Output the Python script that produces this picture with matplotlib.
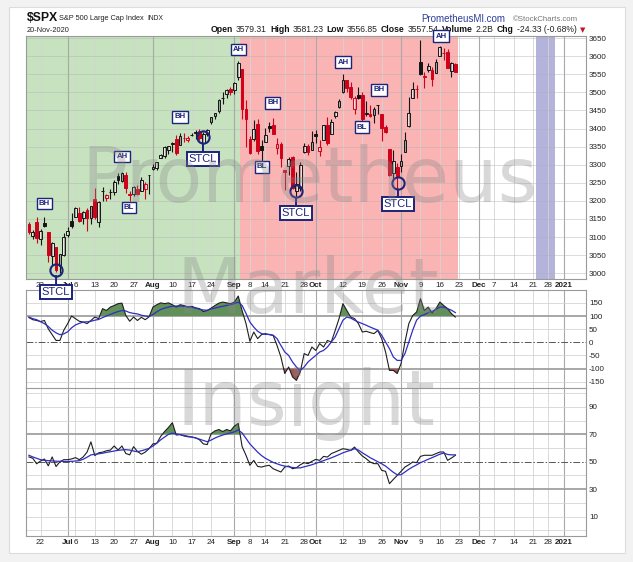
import numpy as np
import matplotlib
matplotlib.use("Agg")
import matplotlib.pyplot as plt
from matplotlib.patches import Rectangle
from matplotlib.offsetbox import TextArea, HPacker, AnnotationBbox

plt.rcParams['font.family'] = ['Liberation Sans', 'DejaVu Sans']

W, H = 633, 562

# ---------------- data ----------------
prev_close = 3124.74
opens = [
    3136.13, 3101.64, 3140.29, 3094.42, 3138.70, 3114.40, 3046.60, 3073.20, 3018.59, 3050.20,
    3105.92, 3143.64, 3155.29, 3166.44, 3153.07, 3176.17, 3152.47, 3205.08, 3141.11, 3225.98,
    3208.36, 3224.21, 3224.29, 3268.52, 3254.86, 3271.64, 3218.58, 3219.84, 3234.27, 3227.22,
    3231.76, 3270.45, 3288.26, 3289.92, 3317.37, 3323.17, 3340.05, 3356.04, 3370.34, 3355.46,
    3372.95, 3368.66, 3380.86, 3387.04, 3392.51, 3360.48, 3386.01, 3418.09, 3435.95, 3449.97,
    3485.14, 3494.69, 3509.73, 3507.44, 3543.76, 3564.74, 3453.60, 3371.88, 3369.82, 3412.56,
    3352.70, 3363.56, 3407.73, 3411.23, 3346.86, 3357.38, 3285.57, 3295.75, 3320.11, 3226.14,
    3236.66, 3333.90, 3350.92, 3341.21, 3385.87, 3338.94, 3367.27, 3408.74, 3384.56, 3434.28,
    3459.67, 3500.02, 3534.01, 3515.47, 3453.72, 3493.50, 3493.66, 3439.38, 3439.91, 3438.50,
    3464.90, 3441.42, 3403.15, 3342.48, 3277.17, 3293.59, 3296.20, 3336.25, 3406.46, 3485.74,
    3508.34, 3583.04, 3543.26, 3563.22, 3562.67, 3552.57, 3600.16, 3610.31, 3612.09, 3559.41,
    3579.31]
highs = [
    3141.16, 3120.00, 3155.53, 3120.92, 3154.90, 3115.01, 3086.25, 3073.73, 3053.89, 3111.51,
    3128.44, 3165.81, 3182.59, 3184.15, 3171.80, 3179.78, 3186.82, 3235.32, 3200.95, 3238.28,
    3220.39, 3233.52, 3258.61, 3277.29, 3279.32, 3279.99, 3227.26, 3241.43, 3243.72, 3264.74,
    3250.92, 3272.17, 3302.73, 3306.84, 3330.77, 3351.03, 3352.54, 3363.29, 3381.01, 3387.89,
    3387.24, 3378.51, 3387.59, 3395.06, 3399.54, 3390.80, 3399.96, 3432.09, 3444.21, 3481.07,
    3501.38, 3509.23, 3514.77, 3528.03, 3588.11, 3564.85, 3479.15, 3379.97, 3424.77, 3425.55,
    3368.95, 3402.93, 3419.48, 3428.92, 3375.17, 3362.27, 3285.57, 3320.31, 3323.35, 3278.70,
    3306.88, 3360.74, 3357.92, 3393.56, 3397.18, 3369.10, 3409.57, 3431.56, 3426.26, 3447.28,
    3482.34, 3549.85, 3534.01, 3527.94, 3489.08, 3515.76, 3502.42, 3476.93, 3464.86, 3460.53,
    3466.46, 3441.42, 3409.51, 3342.48, 3341.05, 3304.93, 3330.14, 3389.49, 3486.25, 3529.05,
    3521.58, 3645.99, 3557.22, 3581.16, 3569.02, 3593.66, 3628.51, 3623.11, 3619.09, 3585.22,
    3581.23]
lows = [
    3108.03, 3093.51, 3083.11, 3079.39, 3127.12, 3032.13, 3024.01, 3004.63, 2999.74, 3047.83,
    3101.17, 3124.52, 3155.29, 3142.93, 3136.53, 3115.70, 3136.22, 3149.43, 3127.66, 3200.76,
    3198.59, 3205.65, 3215.16, 3247.77, 3253.10, 3222.66, 3200.05, 3214.25, 3216.17, 3227.22,
    3204.13, 3220.26, 3284.53, 3286.37, 3317.37, 3318.14, 3328.72, 3335.44, 3326.44, 3355.46,
    3363.35, 3361.64, 3379.22, 3370.15, 3369.66, 3354.69, 3379.31, 3413.13, 3425.84, 3444.15,
    3468.35, 3484.32, 3493.25, 3494.60, 3535.23, 3427.41, 3349.63, 3329.27, 3366.84, 3329.25,
    3310.47, 3363.56, 3389.25, 3384.45, 3328.82, 3292.40, 3229.10, 3270.95, 3232.57, 3209.45,
    3228.44, 3332.91, 3327.54, 3340.47, 3361.39, 3323.69, 3367.27, 3354.54, 3384.56, 3428.15,
    3458.07, 3499.61, 3500.86, 3480.55, 3440.89, 3480.45, 3419.93, 3435.65, 3433.06, 3415.34,
    3440.45, 3364.86, 3388.71, 3268.89, 3259.82, 3233.94, 3279.74, 3336.25, 3405.17, 3485.74,
    3484.34, 3547.48, 3511.91, 3557.00, 3518.58, 3552.57, 3600.16, 3588.68, 3567.33, 3543.84,
    3556.85]
closes = [
    3113.49, 3115.34, 3097.74, 3117.86, 3131.29, 3050.33, 3083.76, 3009.05, 3053.24, 3100.29,
    3115.86, 3130.01, 3179.72, 3145.32, 3169.94, 3152.05, 3185.04, 3155.22, 3197.52, 3226.56,
    3215.57, 3224.73, 3251.84, 3257.30, 3276.02, 3235.66, 3215.63, 3239.41, 3218.44, 3258.44,
    3246.22, 3271.12, 3294.61, 3306.51, 3327.77, 3349.16, 3351.28, 3360.47, 3333.69, 3380.35,
    3373.43, 3372.85, 3381.99, 3389.78, 3374.85, 3385.51, 3397.16, 3431.28, 3443.62, 3478.73,
    3484.55, 3508.01, 3500.31, 3526.65, 3580.84, 3455.06, 3426.96, 3331.84, 3398.96, 3339.19,
    3340.97, 3383.54, 3401.20, 3385.49, 3357.01, 3319.47, 3281.06, 3315.57, 3236.92, 3246.59,
    3298.46, 3351.60, 3335.47, 3363.00, 3380.80, 3348.42, 3408.60, 3360.97, 3419.44, 3446.83,
    3477.14, 3534.22, 3511.93, 3488.67, 3483.34, 3483.81, 3426.92, 3443.12, 3435.56, 3453.49,
    3465.39, 3400.97, 3390.68, 3271.03, 3310.11, 3269.96, 3310.24, 3369.16, 3443.44, 3510.45,
    3509.44, 3550.50, 3545.53, 3572.66, 3537.01, 3585.15, 3626.91, 3609.53, 3567.79, 3581.87,
    3557.54]
volume_text = "2.2B"

cci = [
    94, 86, 83, 79, 83, 51, 29, 7, 7, 46,
    71, 100, 90, 80, 77, 71, 83, 96, 90, 128,
    121, 134, 140, 147, 149, 102, 80, 96, 83, 95,
    86, 97, 134, 143, 150, 147, 150, 143, 134, 143,
    140, 134, 137, 131, 128, 117, 121, 130, 140, 149,
    153, 150, 147, 153, 176, 120, 71, 4, 39, 14,
    29, 33, 29, 26, -12, -56, -119, -94, -132, -145,
    -113, -43, -50, -18, -31, -5, -18, 7, 1, 45,
    90, 147, 121, 96, 90, 71, 39, 42, 37, 33,
    45, 14, -37, -107, -107, -119, -81, 1, 71, 102,
    115, 166, 121, 134, 112, 128, 153, 140, 128, 109,
    96]
cci_signal = [
    96, 90, 86, 78, 71, 60, 46, 36, 29, 32,
    40, 55, 66, 72, 77, 78, 80, 84, 87, 94,
    100, 106, 112, 117, 121, 119, 113, 110, 108, 103,
    100, 98, 106, 116, 125, 130, 134, 137, 138, 138,
    137, 135, 134, 130, 126, 123, 122, 127, 130, 134,
    137, 140, 143, 147, 153, 140, 110, 77, 58, 42,
    33, 30, 30, 27, 14, -12, -37, -50, -75, -94,
    -107, -94, -75, -62, -50, -37, -31, -18, 1, 20,
    52, 84, 96, 92, 84, 77, 71, 65, 58, 52,
    46, 27, 1, -24, -56, -69, -69, -43, 1, 46,
    84, 100, 105, 113, 118, 125, 134, 134, 128, 122,
    113]
rsi = [
    53.5, 52.5, 48.5, 50.5, 52.0, 47.0, 53.5, 46.5, 50.0, 51.5,
    51.5, 52.0, 53.0, 51.5, 53.5, 57.0, 64.5, 54.5, 56.5, 57.0,
    58.0, 58.5, 61.5, 58.5, 61.5, 56.0, 55.0, 61.0, 57.5, 55.5,
    57.0, 59.5, 63.0, 63.5, 68.5, 72.0, 75.0, 78.5, 69.5, 69.8,
    68.8, 68.2, 68.0, 67.5, 66.0, 63.0, 62.5, 70.5, 72.5, 73.5,
    72.0, 73.5, 72.5, 76.0, 78.0, 61.0, 54.7, 47.4, 51.0, 46.6,
    46.1, 46.9, 47.4, 44.9, 43.7, 42.5, 46.1, 46.9, 44.9, 45.6,
    47.8, 49.3, 48.6, 50.3, 51.7, 51.0, 53.9, 53.4, 55.9, 57.1,
    58.3, 59.5, 59.0, 58.3, 60.7, 57.1, 54.2, 52.2, 49.8, 48.6,
    48.6, 43.7, 43.0, 34.0, 37.1, 40.0, 43.0, 46.1, 47.8, 49.8,
    49.3, 53.9, 54.7, 54.7, 54.7, 55.9, 57.1, 57.1, 51.0, 52.7,
    54.7]
rsi_signal = [
    54.7, 53.5, 52.5, 51.5, 51.0, 50.8, 50.6, 50.4, 50.3, 50.2,
    50.2, 50.3, 50.5, 50.8, 51.8, 53.3, 55.0, 55.4, 55.8, 56.2,
    56.8, 57.3, 57.8, 58.3, 58.6, 58.8, 58.5, 57.8, 57.3, 58.0,
    58.8, 59.8, 61.5, 63.5, 66.0, 68.0, 70.0, 70.8, 70.3, 69.8,
    69.2, 68.6, 68.0, 67.3, 66.5, 65.5, 64.6, 65.8, 67.3, 68.5,
    69.5, 70.3, 71.0, 71.8, 73.2, 71.0, 67.0, 63.0, 60.0, 57.0,
    54.5, 52.5, 51.0, 49.5, 48.5, 47.5, 46.8, 46.3, 45.8, 45.5,
    45.5, 46.3, 47.0, 47.8, 48.8, 49.8, 50.8, 51.8, 52.8, 54.0,
    55.2, 56.5, 57.5, 58.3, 59.5, 58.5, 56.5, 54.8, 53.0, 51.5,
    50.0, 48.5, 46.8, 44.5, 42.3, 40.5, 40.5, 42.5, 44.5, 46.2,
    47.7, 49.3, 50.5, 51.8, 53.0, 54.2, 55.5, 56.3, 55.3, 55.0,
    55.0]

tick_pos = [3, 10, 12, 17, 22, 27, 32, 37, 42, 47, 53, 57, 61, 66, 71, 74, 81, 86, 91,
            96, 101, 106, 111, 116, 120, 125, 130, 134, 138]
tick_labels = ["22", "Jul", "6", "13", "20", "27", "Aug", "10", "17", "24", "Sep", "8", "14",
               "21", "28", "Oct", "12", "19", "26", "Nov", "9", "16", "23", "Dec", "7", "14",
               "21", "28", "2021"]
month_ticks = {"Jul", "Aug", "Sep", "Oct", "Nov", "Dec", "2021"}

price_ticks = list(range(3000, 3651, 50))
cci_ticks = [150, 100, 50, 0, -50, -100, -150]
rsi_ticks = [90, 70, 50, 30, 10]

# annotations (bar index, price level)
lbl_text = ["BH", "AH", "BL", "BH", "AH", "BH", "BL", "AH", "BH", "BL", "AH"]
lbl_idx = [4, 24, 25.8, 39, 54, 62.9, 60.1, 81, 90.3, 85.9, 106.3]
lbl_price = [3192, 3322, 3181, 3432, 3618, 3471, 3294, 3584, 3507, 3404, 3656]
stcl_idx = [7, 44.9, 68.9, 95.2]
stcl_circle = [3010, 3376, 3226, 3249]
stcl_box = [2947, 3315, 3167, 3191]

# ---------------- styling constants ----------------
NAVY = '#1c237a'
RED = '#d0021b'
BLK = '#151515'
XLIM = (-0.75, 143.7)

fig = plt.figure(figsize=(W / 100, H / 100), dpi=100)
fig.patch.set_facecolor('#f2f2f2')
fig.add_artist(Rectangle((9 / W, 1 - 553 / H), 616 / W, 546 / H, transform=fig.transFigure,
                         facecolor='white', edgecolor='#dcdcdc', lw=0.8, zorder=0))


def fx(x):
    return x / W


def fy(y):
    return 1 - y / H


ax_r = fig.add_axes([fx(26), fy(536), 560 / W, 148 / H])
ax_c = fig.add_axes([fx(26), fy(388), 560 / W, 98 / H])
ax_p = fig.add_axes([fx(26), fy(279), 560 / W, 243 / H])
ax_p.set_zorder(5)

for ax in (ax_p, ax_c, ax_r):
    ax.set_xlim(*XLIM)
    ax.set_facecolor('white')
    for s in ax.spines.values():
        s.set_color('#9a9a9a')
        s.set_linewidth(0.8)
    ax.yaxis.tick_right()
    ax.tick_params(axis='y', length=0, labelsize=5.8, pad=2.2, colors='#222222')
    ax.tick_params(axis='x', length=0)
    for p, t in zip(tick_pos, tick_labels):
        if t in month_ticks:
            ax.axvline(p, color='#a9a9a9', lw=0.8, zorder=1)
        else:
            ax.axvline(p, color='#d4d4d4', lw=0.6, zorder=1)

# ---------------- price panel ----------------
x = np.arange(len(closes))
o = np.array(opens)
h = np.array(highs)
l = np.array(lows)
c = np.array(closes)
prev = np.r_[prev_close, c[:-1]]

ax_p.set_ylim(2984, 3656)
ax_p.axvspan(XLIM[0], 54.5, color='#c6e2bf', zorder=0.5, lw=0)
ax_p.axvspan(54.5, 110.6, color='#fab4b4', zorder=0.5, lw=0)
ax_p.axvspan(130.8, 135.8, color='#b3b3dc', zorder=0.5, lw=0)
for v in price_ticks:
    ax_p.axhline(v, color='#b0b0b0', lw=0.5, alpha=0.6, zorder=1)
ax_p.set_yticks(price_ticks)
ax_p.set_yticklabels([str(v) for v in price_ticks])

cols = [BLK if cc >= pp else RED for cc, pp in zip(c, prev)]
faces = [col if cc < oo else (1, 1, 1, 0.6) for col, cc, oo in zip(cols, c, o)]
ax_p.vlines(x, l, h, colors=cols, lw=0.8, zorder=3)
ax_p.bar(x, np.maximum(np.abs(c - o), 0.8), bottom=np.minimum(o, c), width=0.7,
         color=faces, edgecolor=cols, linewidth=0.7, zorder=4)

for t, xi, yi in zip(lbl_text, lbl_idx, lbl_price):
    ax_p.text(xi, yi, t, ha='center', va='center', fontsize=5.6, fontweight='bold',
              color=NAVY, zorder=8, clip_on=False,
              bbox=dict(boxstyle='square,pad=0.28', fc='white', ec=NAVY, lw=1.0))
for xi, yc, yb in zip(stcl_idx, stcl_circle, stcl_box):
    ax_p.annotate('STCL', xy=(xi, yc), xytext=(xi, yb), ha='center', va='center',
                  fontsize=8, color=NAVY, zorder=8, annotation_clip=False,
                  bbox=dict(boxstyle='square,pad=0.18', fc='white', ec=NAVY, lw=1.4),
                  arrowprops=dict(arrowstyle='-', color=NAVY, lw=1.4, shrinkA=0, shrinkB=4.5))
    ax_p.plot([xi], [yc], marker='o', ms=8.8, mfc='none', mec=NAVY, mew=1.5, zorder=8,
              clip_on=False)

ax_p.set_xticks(tick_pos)
ax_p.set_xticklabels(tick_labels)
ax_p.tick_params(axis='x', labelsize=5.8, pad=2.3, colors='#222222')
for lab in ax_p.get_xticklabels():
    if lab.get_text() in month_ticks:
        lab.set_fontweight('bold')
ax_p.spines['bottom'].set_linestyle((0, (1, 1)))

# ---------------- CCI panel ----------------
cci_a = np.array(cci, float)
ax_c.set_ylim(-174, 199)
for v in range(-150, 201, 50):
    if v not in (100, -100, 0):
        ax_c.axhline(v, color='#d4d4d4', lw=0.6, zorder=1)
ax_c.axhline(100, color='#a0a0a0', lw=1.3, zorder=1.5)
ax_c.axhline(-100, color='#a0a0a0', lw=1.3, zorder=1.5)
ax_c.axhline(0, color='#555555', lw=0.7, ls=(0, (7, 2, 1.5, 2)), zorder=1.5)
ax_c.fill_between(x, cci_a, 100, where=cci_a > 100, interpolate=True, color='#62905a',
                  lw=0, zorder=2)
ax_c.fill_between(x, cci_a, -100, where=cci_a < -100, interpolate=True, color='#9c5656',
                  lw=0, zorder=2)
ax_c.plot(x, cci_a, color='#1e1e1e', lw=0.8, zorder=3)
ax_c.plot(x, cci_signal, color='#2f2fc0', lw=0.9, zorder=4)
ax_c.set_yticks(cci_ticks)
ax_c.set_yticklabels([str(v) for v in cci_ticks])
ax_c.set_xticks([])
ax_c.spines['top'].set_linestyle((0, (1, 1)))

# ---------------- RSI panel ----------------
rsi_a = np.array(rsi, float)
ax_r.set_ylim(-4.2, 103.8)
for v in range(0, 101, 10):
    if v not in (70, 30, 50):
        ax_r.axhline(v, color='#d4d4d4', lw=0.6, zorder=1)
ax_r.axhline(70, color='#a0a0a0', lw=1.3, zorder=1.5)
ax_r.axhline(30, color='#a0a0a0', lw=1.3, zorder=1.5)
ax_r.axhline(50, color='#555555', lw=0.7, ls=(0, (7, 2, 1.5, 2)), zorder=1.5)
ax_r.fill_between(x, rsi_a, 70, where=rsi_a > 70, interpolate=True, color='#62905a',
                  lw=0, zorder=2)
ax_r.fill_between(x, rsi_a, 30, where=rsi_a < 30, interpolate=True, color='#9c5656',
                  lw=0, zorder=2)
ax_r.plot(x, rsi_a, color='#1e1e1e', lw=0.8, zorder=3)
ax_r.plot(x, rsi_signal, color='#2f2fc0', lw=0.9, zorder=4)
ax_r.set_yticks(rsi_ticks)
ax_r.set_yticklabels([str(v) for v in rsi_ticks])
ax_r.set_xticks(tick_pos)
ax_r.set_xticklabels(tick_labels)
ax_r.tick_params(axis='x', labelsize=5.8, pad=2.3, colors='#222222')
for lab in ax_r.get_xticklabels():
    if lab.get_text() in month_ticks:
        lab.set_fontweight('bold')
ax_r.spines['bottom'].set_linestyle((0, (1, 1)))
ax_r.spines['top'].set_visible(False)

# ---------------- header ----------------
fig.text(fx(27), fy(18), '$SPX', fontsize=8.8, fontweight='bold', va='center', color='#111')
fig.text(fx(59), fy(18.5), 'S&P 500 Large Cap Index', fontsize=5.3, va='center', color='#222')
fig.text(fx(147), fy(18.5), 'INDX', fontsize=4.9, va='center', color='#222')
fig.text(fx(27), fy(30), '20-Nov-2020', fontsize=5.3, va='center', color='#222')
fig.text(fx(421), fy(19.5), 'PrometheusMI.com', fontsize=7, va='center', color='#2c3e9a')
fig.text(fx(513), fy(19.5), '\u00a9StockCharts.com', fontsize=5.6, va='center', color='#777')

chg = c[-1] - c[-2]
pct = chg / c[-2] * 100
bold = dict(fontsize=6.2, fontweight='bold', color='#111')
norm = dict(fontsize=6.2, color='#222')
parts = [("Open", bold), (f"{o[-1]:.2f}", norm), ("High", bold), (f"{h[-1]:.2f}", norm),
         ("Low", bold), (f"{l[-1]:.2f}", norm), ("Close", bold), (f"{c[-1]:.2f}", norm),
         ("Volume", bold), (volume_text, norm), ("Chg", bold),
         (f"{chg:.2f} ({pct:.2f}%)", norm), ("\u25bc", dict(fontsize=5, color='#c0142a',
                                                          family='DejaVu Sans'))]
box = HPacker(children=[TextArea(t, textprops=p) for t, p in parts], align='baseline',
              pad=0, sep=2.2)
ab = AnnotationBbox(box, (fx(585), fy(30)), xycoords='figure fraction',
                    box_alignment=(1, 0.5), frameon=False, pad=0)
fig.add_artist(ab)

# ---------------- watermark ----------------
wm = dict(fontsize=55, family='DejaVu Sans', color='#888888', alpha=0.32, zorder=50,
          va='baseline', ha='left')
fig.text(fx(82), fy(202), 'Prometheus', **wm)
fig.text(fx(176), fy(313), 'Market', **wm)
fig.text(fx(177), fy(425), 'Insight', **wm)

fig.savefig('out.png', dpi=100, facecolor=fig.get_facecolor())
